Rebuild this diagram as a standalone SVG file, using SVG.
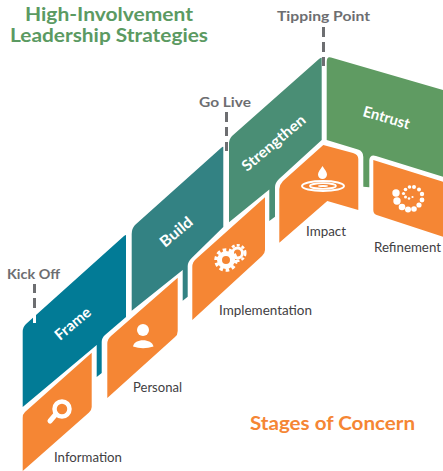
<svg xmlns="http://www.w3.org/2000/svg" width="443" height="471" viewBox="0 0 443 471">
<style>
text{font-family:Lato,"Open Sans","Liberation Sans",sans-serif}
.o{fill:#f58634}
.title{font-size:18px;font-weight:700;fill:#5b9a62}
.mile{font-size:14px;font-weight:700;fill:#6d6e71}
.lab{font-size:13px;fill:#414042}
.st{font-size:15px;font-weight:700;fill:#fff}
.ic{fill:#fff}
.dash{stroke:#6d6e71;stroke-width:3;fill:none}
</style>
<g id="title"><text class="title" x="109" y="21" text-anchor="middle" textLength="168" lengthAdjust="spacingAndGlyphs">High-Involvement</text><text class="title" x="109" y="42" text-anchor="middle" textLength="198" lengthAdjust="spacingAndGlyphs">Leadership Strategies</text></g>
<g id="frame"><path d="M126 235V317L105 335Q101.700 338 101.700 342V373L96.700 377V345L22.700 407V332Q22.700 327 26 324L124 236Q126 234.500 126 235Z" fill="#027b96"/><text class="st" transform="translate(60 341) rotate(-40)" textLength="42" lengthAdjust="spacingAndGlyphs">Frame</text></g>
<g id="build"><path d="M223.300 147V227L191.700 258Q187.700 262 187.700 266V296.700L182.700 300.700V270L131.700 310.700V234Q131.700 228.500 135 225L221 148Q223.300 146 223.300 147Z" fill="#338283"/><text class="st" transform="translate(165 248) rotate(-40)" textLength="38" lengthAdjust="spacingAndGlyphs">Build</text></g>
<g id="strengthen"><path d="M321.700 58V140L279 179Q275 183 275 187V216.700L269.300 221V189.500L229 222.300V144Q229 139 232 136L319 59Q321.700 57 321.700 58Z" fill="#4a8e75"/><text class="st" transform="translate(247 172) rotate(-40)" textLength="78" lengthAdjust="spacingAndGlyphs">Strengthen</text></g>
<g id="entrust"><path d="M326.700 62Q326.700 56 331 57.500L443 90V176.700L376 156Q370 154 369.300 160V187.300L363.300 186.700V157Q363.300 151 358 149.500L326.700 140Z" fill="#5f9b62"/><text class="st" transform="translate(362 116) rotate(16)" textLength="48" lengthAdjust="spacingAndGlyphs">Entrust</text></g>
<g id="information"><path class="o" d="M91.700 352.700V407Q91.700 410 89 412.500L22.700 471V418Q22.700 414 25 412Z"/><g class="ic"><circle cx="62" cy="409" r="7.500" fill="none" stroke="#fff" stroke-width="4.500"/><path d="M56 414L50 421" stroke="#fff" stroke-width="5" stroke-linecap="round"/></g><text class="lab" x="54" y="462" textLength="68" lengthAdjust="spacingAndGlyphs">Information</text></g>
<g id="personal"><path class="o" d="M177.700 277.700V331Q177.700 335 175 337L107.300 398V344Q107.300 339 111 336Z"/><g class="ic"><circle cx="143" cy="330" r="6"/><path d="M133 346.500C134 338 152 338 153.500 346.500Q143 350 133 346.500Z"/></g><text class="lab" x="133" y="392" textLength="49" lengthAdjust="spacingAndGlyphs">Personal</text></g>
<g id="implementation"><path class="o" d="M265 197.300V250Q265 253 262 256L192.300 320V267Q192.300 262 196 259Z"/><g class="ic"><circle cx="226" cy="260" r="6.500" fill="none" stroke="#fff" stroke-width="5"/><circle cx="226" cy="260" r="10" fill="none" stroke="#fff" stroke-width="3.500" stroke-dasharray="3.500 2.730"/><circle cx="237.500" cy="253" r="5" fill="none" stroke="#fff" stroke-width="3"/><circle cx="237.500" cy="253" r="7.800" fill="none" stroke="#fff" stroke-width="2.500" stroke-dasharray="3 2.100"/></g><text class="lab" x="219" y="315" textLength="93" lengthAdjust="spacingAndGlyphs">Implementation</text></g>
<g id="impact"><path class="o" d="M323.300 145L353 153Q358.300 154.500 358.300 159V210L327.300 201L279.300 242.700V189Q279.300 185 283 181Z"/><g class="ic"><path d="M322.500 166C320 170 318 172 318 174.500A4.500 4.500 0 0 0 327 174.500C327 172 325 170 322.500 166Z"/><ellipse cx="323" cy="186" rx="21" ry="5" fill="none" stroke="#fff" stroke-width="2"/><ellipse cx="323" cy="186" rx="13" ry="2.800" fill="none" stroke="#fff" stroke-width="1.800"/><ellipse cx="323" cy="186" rx="5" ry="1"/></g><text class="lab" x="306" y="236" textLength="40" lengthAdjust="spacingAndGlyphs">Impact</text></g>
<g id="refinement"><path class="o" d="M373.300 160L443 181.700V236.700L376.700 215Q373.300 214 373.300 210Z"/><g class="ic"><circle cx="396" cy="193" r="3.700"/><circle cx="397" cy="201" r="3.700"/><circle cx="402" cy="207" r="3.300"/><circle cx="408" cy="209.500" r="3"/><circle cx="414" cy="209" r="2.800"/><circle cx="419" cy="205" r="2.600"/><circle cx="422" cy="200" r="2.400"/><circle cx="422" cy="194" r="2.200"/><circle cx="419" cy="189.500" r="2"/><circle cx="414" cy="187" r="2"/><circle cx="409.500" cy="187" r="1.800"/><circle cx="405.500" cy="189.500" r="1.800"/><circle cx="403.500" cy="193.500" r="1.600"/><circle cx="405.500" cy="197" r="1.500"/><circle cx="409" cy="198.500" r="1.300"/><circle cx="412.500" cy="197" r="1.100"/></g><text class="lab" x="374" y="252" textLength="67" lengthAdjust="spacingAndGlyphs">Refinement</text></g>
<g id="milestones"><text class="mile" x="7" y="279" textLength="53" lengthAdjust="spacingAndGlyphs">Kick Off</text><text class="mile" x="199" y="107" textLength="52" lengthAdjust="spacingAndGlyphs">Go Live</text><text class="mile" x="277" y="21" textLength="93" lengthAdjust="spacingAndGlyphs">Tipping Point</text></g>
<g id="connectors"><path class="dash" d="M34.500 284V293M34.500 298V308"/><path d="M34.500 315V323" stroke="#fff" stroke-width="3"/><path class="dash" d="M226.500 112V122M226.500 127V136M226.500 142V151"/><path class="dash" d="M323.500 27V37M323.500 42V52M323.500 57V66"/></g>
<text id="stages" x="250" y="430" font-size="19" font-weight="700" fill="#f58634" textLength="165" lengthAdjust="spacingAndGlyphs">Stages of Concern</text>
</svg>
